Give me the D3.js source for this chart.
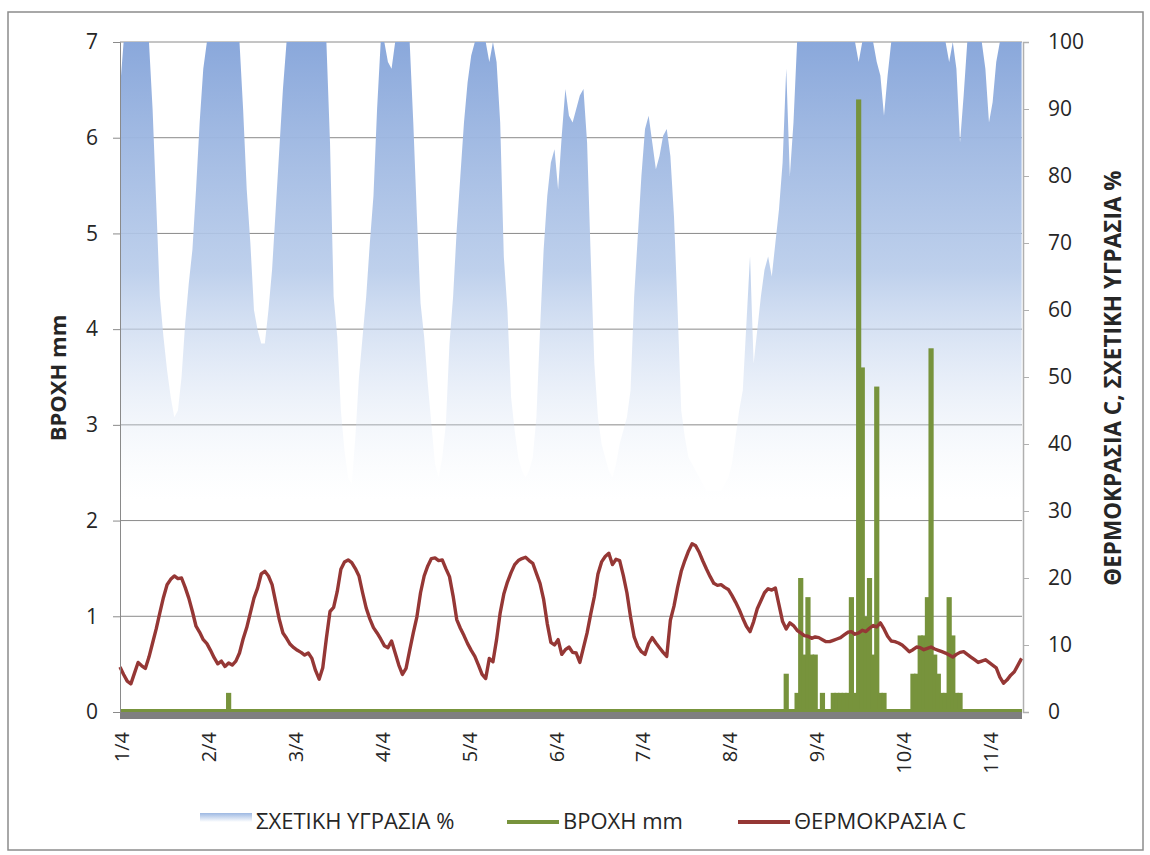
<!DOCTYPE html>
<html>
<head>
<meta charset="utf-8">
<script src="https://cdn.jsdelivr.net/npm/d3@7"></script>
<style>
body { margin: 0; background: #fff; }
text { font-family: "Open Sans", "Noto Sans", sans-serif; fill: #262626; }
</style>
</head>
<body>
<svg id="chart" width="1150" height="855"></svg>
<script>
// hourly readings, from 1/4 00:00
var dayLabels = ["1/4", "2/4", "3/4", "4/4", "5/4", "6/4", "7/4", "8/4", "9/4", "10/4", "11/4"];

var temperature = [
    6.7, 5.6, 4.6, 4.2, 5.8, 7.4, 6.9, 6.5, 8.2, 10.3,
    12.4, 14.8, 17.1, 19.0, 19.8, 20.3, 19.9, 20.0, 18.6, 17.0,
    15.0, 12.8, 11.9, 10.8, 10.2, 9.2, 8.1, 7.2, 7.6, 6.8,
    7.3, 7.0, 7.6, 8.8, 10.9, 12.6, 14.8, 17.0, 18.5, 20.6,
    21.0, 20.3, 19.0, 16.4, 13.8, 11.8, 11.0, 10.1, 9.6, 9.2,
    8.9, 8.5, 8.8, 8.0, 6.2, 4.9, 6.6, 11.0, 15.0, 15.6,
    18.0, 21.3, 22.4, 22.7, 22.3, 21.4, 20.3, 17.8, 15.5, 13.9,
    12.6, 11.8, 10.9, 9.9, 9.6, 10.6, 8.8, 7.0, 5.6, 6.5,
    9.2, 11.8, 14.2, 17.8, 20.3, 21.8, 22.9, 23.0, 22.6, 22.7,
    21.4, 20.2, 17.3, 13.8, 12.5, 11.4, 10.2, 9.2, 8.3, 7.0,
    5.6, 5.0, 8.0, 7.5, 10.8, 14.8, 17.6, 19.4, 20.8, 22.0,
    22.6, 22.9, 23.1, 22.6, 22.2, 20.7, 19.2, 16.8, 13.2, 10.4,
    10.0, 10.8, 8.6, 9.3, 9.7, 8.9, 8.8, 7.4, 9.6, 11.8,
    14.6, 17.2, 20.6, 22.4, 23.2, 23.7, 22.0, 22.8, 22.6, 20.4,
    17.8, 14.2, 11.2, 9.8, 9.0, 8.6, 10.2, 11.1, 10.3, 9.6,
    8.9, 8.3, 13.7, 15.8, 18.6, 21.0, 22.6, 24.0, 25.1, 24.8,
    23.8, 22.5, 21.3, 20.2, 19.2, 18.9, 19.0, 18.6, 18.3, 17.4,
    16.4, 15.3, 14.0, 12.8, 12.0, 13.5, 15.4, 16.6, 17.8, 18.4,
    18.2, 18.5, 16.0, 13.5, 12.4, 13.3, 12.9, 12.2, 11.8, 11.4,
    11.3, 11.0, 11.2, 11.1, 10.8, 10.5, 10.5, 10.7, 10.9, 11.1,
    11.5, 11.9, 12.0, 11.6, 11.8, 12.2, 12.0, 12.5, 12.9, 12.7,
    13.3, 12.4, 11.3, 10.6, 10.5, 10.3, 10.0, 9.5, 9.0, 9.3,
    9.7, 9.6, 9.3, 9.5, 9.7, 9.4, 9.2, 9.0, 8.8, 8.5,
    8.2, 8.6, 8.9, 9.0, 8.6, 8.2, 7.8, 7.4, 7.6, 7.8,
    7.4, 7.0, 6.6, 5.2, 4.3, 4.8, 5.5, 6.0, 7.0, 8.0
];

var humidity = [
    93, 100, 100, 100, 100, 100, 100, 100, 100, 90,
    76, 62, 56, 51, 47, 44, 45, 50, 58, 64,
    69, 78, 88, 96, 100, 100, 100, 100, 100, 100,
    100, 100, 100, 100, 90, 78, 70, 60, 57, 55,
    55, 60, 66, 75, 84, 93, 100, 100, 100, 100,
    100, 100, 100, 100, 100, 100, 100, 100, 85, 62,
    56, 45, 39, 35, 34, 41, 50, 56, 62, 70,
    77, 90, 100, 100, 97, 96, 100, 100, 100, 100,
    100, 88, 74, 61, 56, 49, 43, 37, 35, 38,
    43, 55, 62, 72, 80, 88, 94, 98, 100, 100,
    100, 100, 97, 100, 97, 88, 68, 60, 47, 42,
    38, 36, 35, 36, 38, 44, 57, 69, 77, 82,
    84, 78, 86, 93, 89, 88, 90, 92, 93, 85,
    68, 52, 44, 40, 38, 36, 35, 37, 40, 42,
    44, 48, 62, 71, 80, 87, 89, 85, 81, 83,
    86, 87, 83, 74, 60, 45, 41, 38, 37, 36,
    35, 34, 33, 33, 33, 33, 33, 34, 35, 37,
    41, 45, 48, 58, 68, 52, 57, 62, 66, 68,
    65, 70, 75, 82, 96, 80, 88, 100, 100, 100,
    100, 100, 100, 100, 100, 100, 100, 100, 100, 100,
    100, 100, 100, 100, 97, 100, 100, 100, 100, 97,
    95, 89, 95, 100, 100, 100, 100, 100, 100, 100,
    100, 100, 100, 100, 100, 100, 100, 100, 100, 97,
    100, 96, 85, 92, 100, 100, 100, 100, 100, 96,
    88, 91, 97, 100, 100, 100, 100, 100, 100, 100
];

// rain only where it fell (hour index, mm)
var rainHour = [30, 184, 187, 188, 189, 190, 191, 192, 194,
    197, 198, 199, 200, 201,
    202, 203, 204, 205, 206, 207, 208, 209, 210, 211,
    219, 220, 221, 222, 223, 224, 225, 226, 227, 228, 229, 230, 231, 232];
var rainMm = [0.2, 0.4, 0.2, 1.4, 0.6, 1.2, 0.6, 0.6, 0.2,
    0.2, 0.2, 0.2, 0.2, 0.2,
    1.2, 0.2, 6.4, 3.6, 1.0, 1.4, 0.6, 3.4, 0.2, 0.2,
    0.4, 0.4, 0.8, 0.8, 1.2, 3.8, 0.6, 0.4, 0.2, 0.2, 1.2, 0.8, 0.2, 0.2];

var leftTicks = [0, 1, 2, 3, 4, 5, 6, 7];
var rightTicks = [0, 10, 20, 30, 40, 50, 60, 70, 80, 90, 100];

var svg = d3.select("#chart");
var plotLeft = 120, plotRight = 1022, plotTop = 42, plotBottom = 712;
var hourWidth = 86.9 / 24;

var x = d3.scaleLinear().domain([0, (plotRight - plotLeft) / hourWidth]).range([plotLeft, plotRight]);
var yL = d3.scaleLinear().domain([0, 7]).range([plotBottom, plotTop]);
var yR = d3.scaleLinear().domain([0, 100]).range([plotBottom, plotTop]);

// frame
svg.append("rect")
    .attr("x", 8).attr("y", 12).attr("width", 1135).attr("height", 838)
    .attr("fill", "#fff").attr("stroke", "#8c8c8c").attr("stroke-width", 1.5);

var defs = svg.append("defs");
var grad = defs.append("linearGradient").attr("id", "hum")
    .attr("gradientUnits", "userSpaceOnUse")
    .attr("x1", 0).attr("y1", plotTop).attr("x2", 0).attr("y2", 500);
grad.append("stop").attr("offset", 0).attr("stop-color", "#8aa8db").attr("stop-opacity", 1);
grad.append("stop").attr("offset", 0.5).attr("stop-color", "#b7cbea").attr("stop-opacity", 0.9);
grad.append("stop").attr("offset", 1).attr("stop-color", "#e6edf8").attr("stop-opacity", 0);

var lg = defs.append("linearGradient").attr("id", "humLegend")
    .attr("x1", 0).attr("y1", 0).attr("x2", 0).attr("y2", 1);
lg.append("stop").attr("offset", 0).attr("stop-color", "#9db8e2");
lg.append("stop").attr("offset", 1).attr("stop-color", "#ffffff");

// gridlines
svg.append("g").selectAll("line").data(leftTicks.slice(1)).join("line")
    .attr("x1", plotLeft).attr("x2", plotRight)
    .attr("y1", function (d) { return yL(d); }).attr("y2", function (d) { return yL(d); })
    .attr("stroke", "#8a8a8a").attr("stroke-width", 1);

// humidity area
var area = d3.area()
    .x(function (d, i) { return x(i); })
    .y0(plotBottom)
    .y1(function (d) { return yR(d); });
svg.append("path").datum(humidity)
    .attr("d", area)
    .attr("fill", "url(#hum)");

// rain bars
svg.append("g").selectAll("rect").data(rainHour).join("rect")
    .attr("x", function (d) { return x(d) - 2.6; })
    .attr("width", 5.2)
    .attr("y", function (d, i) { return yL(rainMm[i]); })
    .attr("height", function (d, i) { return plotBottom - yL(rainMm[i]); })
    .attr("fill", "#77933c");

// axis band at zero
svg.append("rect")
    .attr("x", plotLeft).attr("y", plotBottom).attr("width", plotRight - plotLeft).attr("height", 7)
    .attr("fill", "#7f7f7f");
svg.append("line")
    .attr("x1", plotLeft).attr("x2", plotRight).attr("y1", plotBottom - 1.5).attr("y2", plotBottom - 1.5)
    .attr("stroke", "#77933c").attr("stroke-width", 3);

// temperature
var line = d3.line()
    .x(function (d, i) { return x(i); })
    .y(function (d) { return yR(d); });
svg.append("path").datum(temperature)
    .attr("d", line)
    .attr("fill", "none")
    .attr("stroke", "#953735")
    .attr("stroke-width", 3.4)
    .attr("stroke-linejoin", "round");

// left axis
var axL = d3.axisLeft(yL).tickValues(leftTicks).tickFormat(d3.format("d")).tickSize(7).tickPadding(15);
var gL = svg.append("g").attr("transform", "translate(" + plotLeft + ",0)").call(axL);
gL.select(".domain").attr("stroke", "#8a8a8a");
gL.selectAll(".tick line").attr("stroke", "#8a8a8a");
gL.selectAll("text").style("font-size", "21px").attr("fill", "#262626");

// right axis
var axR = d3.axisRight(yR).tickValues(rightTicks).tickSize(6).tickPadding(19);
var gR = svg.append("g").attr("transform", "translate(" + (plotRight + 1) + ",0)").call(axR);
gR.select(".domain").attr("stroke", "#b0b0b0").attr("stroke-width", 1.5);
gR.selectAll(".tick line").attr("stroke", "#b0b0b0");
gR.selectAll("text").style("font-size", "21px").attr("fill", "#262626");

// day labels
svg.append("g").selectAll("text").data(dayLabels).join("text")
    .attr("transform", function (d, i) { return "translate(" + (x(i * 24) + 9) + ",732) rotate(-90)"; })
    .attr("text-anchor", "end")
    .style("font-size", "20px")
    .text(function (d) { return d; });

// axis titles
svg.append("text")
    .attr("transform", "translate(66,378) rotate(-90)")
    .attr("text-anchor", "middle")
    .style("font-size", "22px").style("font-weight", "bold")
    .text("ΒΡΟΧΗ mm");
svg.append("text")
    .attr("transform", "translate(1121,378) rotate(-90)")
    .attr("text-anchor", "middle")
    .style("font-size", "22.5px").style("font-weight", "bold")
    .text("ΘΕΡΜΟΚΡΑΣΙΑ C, ΣΧΕΤΙΚΗ ΥΓΡΑΣΙΑ %");

// legend
var legendX = [200, 507, 738];
var legendNames = ["ΣΧΕΤΙΚΗ ΥΓΡΑΣΙΑ %", "ΒΡΟΧΗ mm", "ΘΕΡΜΟΚΡΑΣΙΑ C"];
var legendColors = ["url(#humLegend)", "#77933c", "#953735"];
var leg = svg.append("g").selectAll("g").data(legendNames).join("g")
    .attr("transform", function (d, i) { return "translate(" + legendX[i] + ",0)"; });
leg.append("rect")
    .attr("x", 0).attr("width", 52)
    .attr("y", function (d, i) { return i == 0 ? 813 : 820; })
    .attr("height", function (d, i) { return i == 0 ? 9 : 4; })
    .attr("fill", function (d, i) { return legendColors[i]; });
leg.append("text")
    .attr("x", 56).attr("y", 829)
    .style("font-size", "22px")
    .text(function (d) { return d; });
</script>
</body>
</html>
